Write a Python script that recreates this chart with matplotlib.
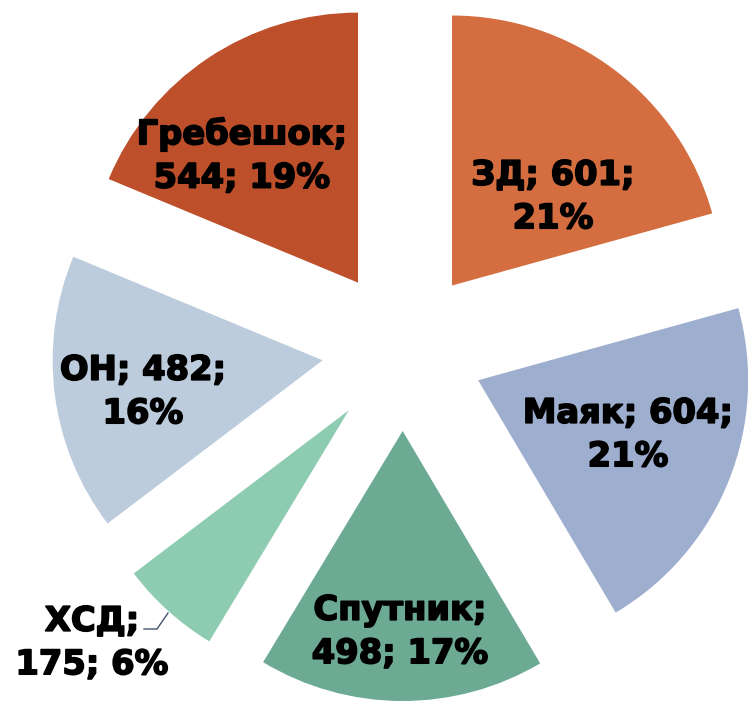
import matplotlib
matplotlib.use("Agg")
import matplotlib.pyplot as plt
import matplotlib.patheffects as pe

categories = ["ЗД", "Маяк", "Спутник", "ХСД", "ОН", "Гребешок"]
values = [601, 604, 498, 175, 482, 544]
percents = ["21%", "21%", "17%", "6%", "16%", "19%"]
label_texts = ["ЗД; 601;\n21%", "Маяк; 604;\n21%", "Спутник;\n498; 17%",
               "ХСД;\n175; 6%", "ОН; 482;\n16%", "Гребешок;\n544; 19%"]
colors = ["#D46E40", "#9DAECE", "#6CAA94", "#8ECCB2", "#BDCCDD", "#BD4F2B"]

W, H = 748, 701
fig = plt.figure(figsize=(W / 100, H / 100), dpi=100)
ax = fig.add_axes([0, 0, 1, 1])

cx, cy = 403, H - 350
R = 270
ex = 81
ax.pie(values, colors=colors, startangle=90, counterclock=False,
       radius=R, center=(cx, cy), explode=[ex] * len(values),
       wedgeprops=dict(linewidth=0), frame=True)
ax.set_xlim(0, W)
ax.set_ylim(0, H)
ax.set_aspect("auto")
ax.axis("off")

# label positions in pixel coordinates (x, y from top)
label_pos = [(553, 197), (628, 435), (400, 632), (92, 643), (143, 392), (242, 156)]
for txt, (px, py) in zip(label_texts, label_pos):
    ax.text(px, H - py, txt, ha="center", va="center", fontsize=24.3,
            fontweight="bold", family="DejaVu Sans", linespacing=1.4,
            color="black",
            path_effects=[pe.withStroke(linewidth=1.2, foreground="black")])

# leader line for ХСД
ax.plot([144, 157, 168], [H - 629, H - 629, H - 613], color="#44546A", lw=1)

fig.savefig("out.png", dpi=100)
